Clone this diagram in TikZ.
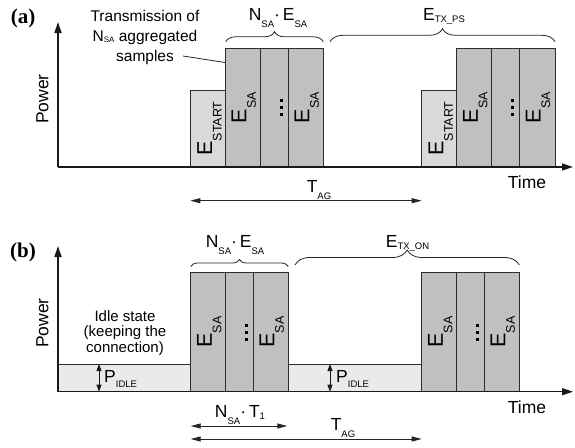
\documentclass[tikz,border=0pt]{standalone}
\usepackage{fontspec}
\setmainfont{Liberation Sans}
\newfontfamily\panelfont{Liberation Serif}
\usetikzlibrary{arrows.meta,decorations.pathreplacing}
\definecolor{safill}{RGB}{192,193,191}
\definecolor{stfill}{RGB}{217,217,217}
\definecolor{idfill}{RGB}{234,234,234}
\definecolor{edgec}{RGB}{45,45,45}
\newcommand{\subs}[3]{\raisebox{-#1}{\fontsize{#2}{#2}\selectfont #3}}
\newcommand{\lo}[1]{\subs{7pt}{9.5}{#1}}
\newcommand{\shlo}[1]{\subs{2pt}{9.5}{#1}}
\newcommand{\midlo}[1]{\subs{5pt}{9.5}{#1}}
\newcommand{\blo}[1]{\subs{9.5pt}{12.5}{#1}}
\tikzset{
  boxbase/.style={draw=edgec, line width=0.9pt, inner sep=0pt, outer sep=0pt, anchor=south west},
  sabox/.style={boxbase, fill=safill},
  stbox/.style={boxbase, fill=stfill},
  idbox/.style={boxbase, fill=idfill},
  axisline/.style={line width=1.4pt, draw=black!90, -{Triangle[length=11pt,width=7pt]}},
  dimline/.style={line width=0.9pt, draw=black!85, {Triangle[length=10pt,width=5pt]}-{Triangle[length=10pt,width=5pt]}},
  pline/.style={line width=0.9pt, draw=black!90, {Triangle[length=7pt,width=5pt]}-{Triangle[length=7pt,width=5pt]}},
  brc/.style={decorate, decoration={brace, amplitude=#1}, line width=0.8pt, draw=black!85},
  lbl/.style={font=\fontsize{17.5}{17.5}\selectfont, inner sep=0pt},
  blbl/.style={rotate=90, font=\fontsize{21.5}{21.5}\selectfont, inner sep=0pt},
  note/.style={font=\fontsize{15.5}{20}\selectfont, align=center, inner sep=0pt},
  panel/.style={font=\panelfont\bfseries\fontsize{21}{21}\selectfont, inner sep=0pt},
  dotsq/.style={fill=black, inner sep=0pt, minimum size=3pt},
}
\begin{document}
\begin{tikzpicture}[x=1pt,y=-1pt]
\useasboundingbox (0,0) rectangle (575,447);
% ================= panel (a) =================
\node[stbox, minimum width=35.4pt, minimum height=77pt] (st1) at (190.3,167) {};
\node[sabox, minimum width=34.3pt, minimum height=118.7pt] (a1) at (225.7,167) {};
\node[sabox, minimum width=28.3pt, minimum height=118.7pt] (a2) at (260,167) {};
\node[sabox, minimum width=35pt, minimum height=118.7pt] (a3) at (288.3,167) {};
\node[stbox, minimum width=35pt, minimum height=77pt] (st2) at (421.7,167) {};
\node[sabox, minimum width=35pt, minimum height=118.7pt] (a4) at (456.7,167) {};
\node[sabox, minimum width=27.6pt, minimum height=118.7pt] (a5) at (491.7,167) {};
\node[sabox, minimum width=35.7pt, minimum height=118.7pt] (a6) at (519.3,167) {};

\node[blbl] (lst1) at ([xshift=1.5pt]st1.center) {E\blo{START}};
\node[blbl] (la1) at ([xshift=1pt]a1.center) {E\blo{SA}};
\node[blbl] (la3) at ([xshift=1pt]a3.center) {E\blo{SA}};
\node[blbl] (lst2) at ([xshift=1.5pt]st2.center) {E\blo{START}};
\node[blbl] (la4) at ([xshift=1pt]a4.center) {E\blo{SA}};
\node[blbl] (la6) at ([xshift=1pt]a6.center) {E\blo{SA}};
\node[dotsq] (d1) at (281.5,100.5) {};
\node[dotsq] (d2) at (281.5,107.3) {};
\node[dotsq] (d3) at (281.5,114) {};
\node[dotsq] (d4) at (512.8,100.5) {};
\node[dotsq] (d5) at (512.8,107.3) {};
\node[dotsq] (d6) at (512.8,114) {};

\coordinate (oa) at (58,167);
\coordinate (ya) at (58,22);
\coordinate (xa) at (573,167);
\draw[axisline] (oa) -- (ya);
\draw[axisline] (oa) -- (xa);

\node[panel] (pa) at (23,18) {(a)};
\node[lbl, rotate=90] (powa) at (42.5,99) {Power};
\node[lbl] (timea) at (527,182) {Time};

\node[note] (trans) at (145,37) {Transmission of\\N\subs{1pt}{8}{SA} aggregated\\samples};
\coordinate (cs) at (183,56);
\coordinate (ce) at (225,62.5);
\draw[line width=0.8pt, black!85] (cs) -- (ce);

\coordinate (b1s) at ([yshift=6.5pt]a1.north west);
\coordinate (b1e) at ([yshift=6.5pt]a3.north east);
\draw[brc=10] (b1s) -- (b1e);
\coordinate (b2s) at (330,41.8);
\coordinate (b2e) at (555,41.8);
\draw[brc=13] (b2s) -- (b2e);
\node[lbl, anchor=base] (nea) at (278,20) {N\lo{SA}·\,E\lo{SA}};
\node[lbl, anchor=base] (etxps) at (444,20) {E\shlo{TX\_PS}};

\coordinate (ta) at (0,200.7);
\draw[dimline] (st1.south west |- ta) -- (st2.south west |- ta);
\node[lbl, anchor=base] (taga) at (319,192) {T\lo{AG}};

% ================= panel (b) =================
\node[idbox, minimum width=132.7pt, minimum height=27.7pt] (id1) at (58,391.7) {};
\node[sabox, minimum width=35pt, minimum height=119.4pt] (b1) at (190.7,391.7) {};
\node[sabox, minimum width=27.6pt, minimum height=119.4pt] (b2) at (225.7,391.7) {};
\node[sabox, minimum width=35pt, minimum height=119.4pt] (b3) at (253.3,391.7) {};
\node[idbox, minimum width=133.4pt, minimum height=27.7pt] (id2) at (288.3,391.7) {};
\node[sabox, minimum width=35pt, minimum height=119.4pt] (b4) at (421.7,391.7) {};
\node[sabox, minimum width=27.6pt, minimum height=119.4pt] (b5) at (456.7,391.7) {};
\node[sabox, minimum width=35pt, minimum height=119.4pt] (b6) at (484.3,391.7) {};

\node[blbl] (lb1) at ([xshift=1pt]b1.center) {E\blo{SA}};
\node[blbl] (lb3) at ([xshift=1pt]b3.center) {E\blo{SA}};
\node[blbl] (lb4) at ([xshift=1pt]b4.center) {E\blo{SA}};
\node[blbl] (lb6) at ([xshift=1pt]b6.center) {E\blo{SA}};
\node[dotsq] (e1) at (246.5,325) {};
\node[dotsq] (e2) at (246.5,332) {};
\node[dotsq] (e3) at (246.5,339) {};
\node[dotsq] (e4) at (477.5,325) {};
\node[dotsq] (e5) at (477.5,332) {};
\node[dotsq] (e6) at (477.5,339) {};

\coordinate (ob) at (58,391.7);
\coordinate (yb) at (58,246);
\coordinate (xb) at (573,391.7);
\draw[axisline] (ob) -- (yb);
\draw[axisline] (ob) -- (xb);

\node[panel] (pb) at (23,252) {(b)};
\node[lbl, rotate=90] (powb) at (42.5,323) {Power};
\node[lbl] (timeb) at (527,407) {Time};

\node[note, font=\fontsize{15}{15.5}\selectfont] (idle) at (125,333) {Idle state\\(keeping the\\connection)};

\coordinate (p1t) at (99,364);
\coordinate (p1b) at (99,391.7);
\draw[pline] (p1t) -- (p1b);
\node[lbl, anchor=base west] (pidle1) at (104,382) {P\midlo{IDLE}};
\coordinate (p2t) at (330,364);
\coordinate (p2b) at (330,391.7);
\draw[pline] (p2t) -- (p2b);
\node[lbl, anchor=base west] (pidle2) at (336,382) {P\midlo{IDLE}};

\coordinate (c1s) at (190.7,266.5);
\coordinate (c1e) at (288.3,266.5);
\draw[brc=7] (c1s) -- (c1e);
\coordinate (c2s) at (295,265);
\coordinate (c2e) at (519.3,265);
\draw[brc=15] (c2s) -- (c2e);
\node[lbl, anchor=base] (neb) at (235,247) {N\lo{SA}·\,E\lo{SA}};
\node[lbl, anchor=base] (etxon) at (407.5,247) {E\shlo{TX\_ON}};

\coordinate (tb1) at (0,426);
\coordinate (tb2) at (0,439);
\draw[dimline] (b1.south west |- tb1) -- ([xshift=-1pt]b3.south east |- tb1);
\draw[dimline] (b1.south west |- tb2) -- (id2.south east |- tb2);
\node[lbl, anchor=base] (nt) at (240,417) {N\lo{SA}·\,T\shlo{1}};
\node[lbl, anchor=base] (tagb) at (343,430) {T\lo{AG}};
\end{tikzpicture}
\end{document}
